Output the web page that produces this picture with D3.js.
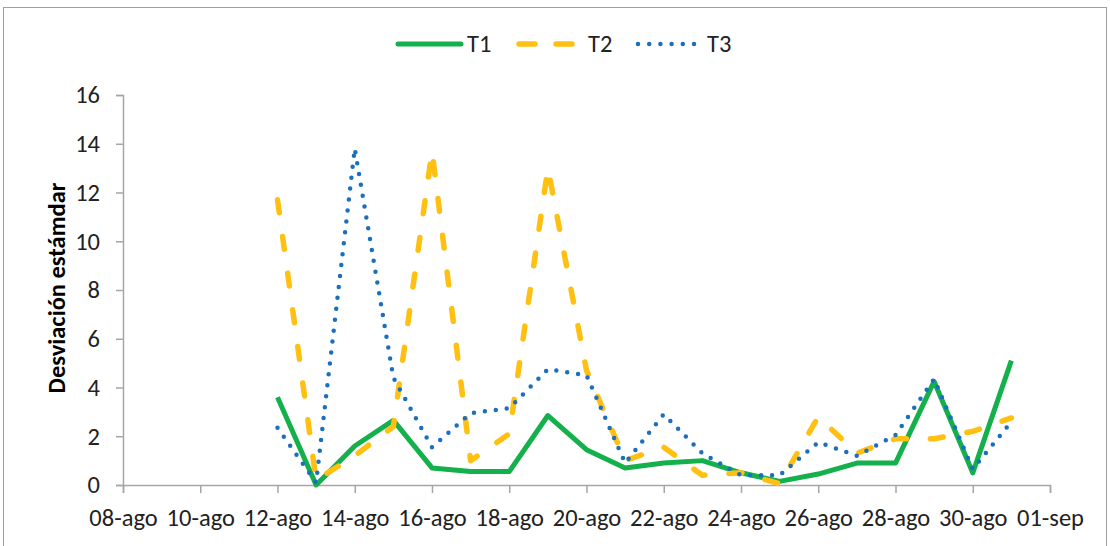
<!DOCTYPE html>
<html><head><meta charset="utf-8">
<script src="https://cdn.jsdelivr.net/npm/d3@7"></script>
<style>
body{margin:0;background:#fff;}
text{font-family:Carlito,"Liberation Sans Narrow","Liberation Sans",sans-serif;}
</style></head>
<body><svg id="c" width="1110" height="546"></svg>
<script>
const dates = ["2020-08-12","2020-08-13","2020-08-14","2020-08-15","2020-08-16","2020-08-17","2020-08-18","2020-08-19","2020-08-20","2020-08-21","2020-08-22","2020-08-23","2020-08-24","2020-08-25","2020-08-26","2020-08-27","2020-08-28","2020-08-29","2020-08-30","2020-08-31"];
const t1 = [3.6,0.0,1.6,2.65,0.7,0.55,0.55,2.85,1.45,0.7,0.9,1.0,0.5,0.15,0.45,0.9,0.9,4.25,0.5,5.1];
const t2 = [11.7,0.2,1.2,2.4,13.7,1.0,2.1,13.0,4.7,1.0,1.55,0.4,0.5,0.05,2.8,1.3,1.9,1.9,2.2,2.75];
const t3 = [2.35,0.1,13.8,4.4,1.55,2.95,3.15,4.75,4.5,0.9,2.9,1.3,0.4,0.4,1.75,1.2,2.05,4.35,0.65,2.6];
const tickDates = ["2020-08-08","2020-08-10","2020-08-12","2020-08-14","2020-08-16","2020-08-18","2020-08-20","2020-08-22","2020-08-24","2020-08-26","2020-08-28","2020-08-30","2020-09-01"];
const tickLabels = ["08-ago","10-ago","12-ago","14-ago","16-ago","18-ago","20-ago","22-ago","24-ago","26-ago","28-ago","30-ago","01-sep"];
const yTicks = [0,2,4,6,8,10,12,14,16];
const seriesNames = ["T1","T2","T3"];

const FONT = "Carlito,'Liberation Sans Narrow','Liberation Sans',sans-serif";
const FS = 24.5;
const parse = d3.utcParse("%Y-%m-%d");
const svg = d3.select("#c");
svg.append("rect").attr("x",3.5).attr("y",7.5).attr("width",1103).attr("height",545).attr("fill","#fff").attr("stroke","#a0a0a0").attr("stroke-width",1);

const x = d3.scaleUtc().domain([parse(tickDates[0]), parse(tickDates[tickDates.length-1])]).range([123,1050]);
const y = d3.scaleLinear().domain([0,16]).range([485,95]);
const axisColor = "#a6a6a6";

// y axis
const ya = svg.append("g").attr("transform","translate(123,0)")
  .call(d3.axisLeft(y).tickValues(yTicks).tickSize(7).tickPadding(16).tickFormat(d3.format("d")));
ya.select(".domain").attr("stroke",axisColor).attr("stroke-width",1.5);
ya.selectAll(".tick line").attr("stroke",axisColor).attr("stroke-width",1.5);
ya.selectAll(".tick text").attr("font-size",FS).attr("fill","#222").attr("font-family",FONT);

// x axis
const tickMap = new Map(tickDates.map((d,i)=>[+parse(d), tickLabels[i]]));
const xa = svg.append("g").attr("transform","translate(0,485)")
  .call(d3.axisBottom(x).tickValues(tickDates.map(parse)).tickSize(8).tickPadding(16).tickFormat(d=>tickMap.get(+d)));
xa.select(".domain").attr("stroke",axisColor).attr("stroke-width",1.5);
xa.selectAll(".tick line").attr("stroke",axisColor).attr("stroke-width",1.5);
xa.selectAll(".tick text").attr("font-size",FS).attr("fill","#222").attr("font-family",FONT);

svg.append("text").attr("transform","translate(65,288) rotate(-90)").attr("text-anchor","middle")
  .attr("font-size",FS).attr("font-weight","bold").attr("fill","#000").text("Desviación estámdar");

const styles = [
  {data:t1,color:"#13b04b",dash:null,width:5,cap:"butt"},
  {data:t2,color:"#ffc012",dash:"13,24",width:5.5,cap:"round"},
  {data:t3,color:"#1a6fbf",dash:"0,11",width:4.5,cap:"round"}
];
const line = d3.line().x(d=>x(d[0])).y(d=>y(d[1]));
styles.forEach(s=>{
  const pts = dates.map((d,i)=>[parse(d), s.data[i]]);
  const p = svg.append("path").datum(pts).attr("d",line).attr("fill","none")
    .attr("stroke",s.color).attr("stroke-width",s.width).attr("stroke-linecap",s.cap).attr("stroke-linejoin","round");
  if(s.dash) p.attr("stroke-dasharray",s.dash);
});

// legend
const lg = [
  {x1:398,x2:461,tx:467,dash:null},
  {x1:519,x2:575,tx:588,dash:"16,21"},
  {x1:638,x2:694,tx:707,dash:"0,11.2"}
];
lg.forEach((l,i)=>{
  const s = styles[i];
  const ln = svg.append("line").attr("x1",l.x1).attr("x2",l.x2).attr("y1",44).attr("y2",44)
    .attr("stroke",s.color).attr("stroke-width",s.width).attr("stroke-linecap",s.cap==="butt"?"round":"round");
  if(l.dash) ln.attr("stroke-dasharray", l.dash);
  svg.append("text").attr("x",l.tx).attr("y",52).attr("font-size",FS).attr("fill","#222").text(seriesNames[i]);
});
</script></body></html>
